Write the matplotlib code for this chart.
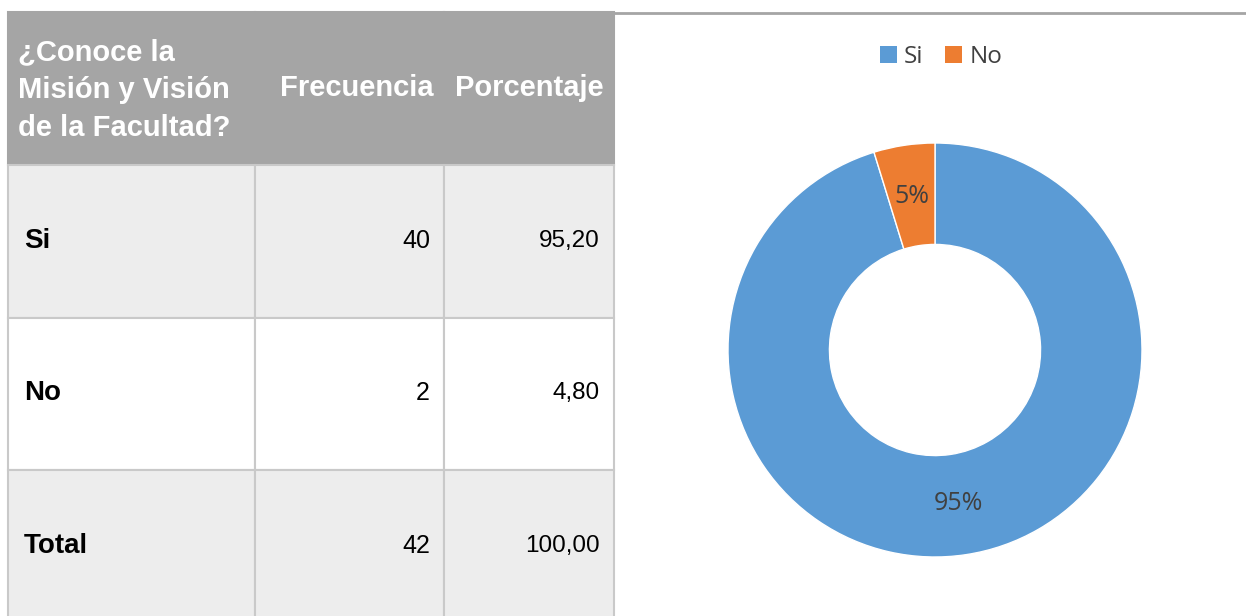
import matplotlib
matplotlib.use('Agg')
import matplotlib.pyplot as plt
from matplotlib.patches import Rectangle, Patch

# data
categories = ['Si', 'No']
frecuencia = [40, 2]
porcentaje = ['95,20', '4,80']
total_row = ['Total', '42', '100,00']
header = ['¿Conoce la\nMisión y Visión\nde la Facultad?', 'Frecuencia', 'Porcentaje']
colors = ['#5b9bd5', '#ed7d31']

W, H = 1246, 616
fig = plt.figure(figsize=(W / 100, H / 100), dpi=100)

# table drawn in pixel coords
tab = fig.add_axes([0, 0, 1, 1])
tab.set_xlim(0, W)
tab.set_ylim(H, 0)
tab.axis('off')

col_x = [8, 255, 444, 614]
row_y = [12, 165, 318, 470, 624]
row_bg = ['#a5a5a5', '#ededed', '#ffffff', '#ededed']
grid = '#c9c9c9'

for r in range(4):
    for c in range(3):
        tab.add_patch(Rectangle((col_x[c], row_y[r]), col_x[c + 1] - col_x[c],
                                row_y[r + 1] - row_y[r], facecolor=row_bg[r],
                                edgecolor=grid if r > 0 else row_bg[r], lw=1.5))

hfont = dict(family='Liberation Sans', weight='bold', color='white', fontsize=21)
tab.text(18, 90, header[0], ha='left', va='center', linespacing=1.45, **hfont)
tab.text(434, 88, header[1], ha='right', va='center', **hfont)
tab.text(604, 88, header[2], ha='right', va='center', **hfont)

rows = [[categories[i], str(frecuencia[i]), porcentaje[i]] for i in range(2)] + [total_row]
for i, row in enumerate(rows):
    yc = (row_y[i + 1] + row_y[i + 2]) / 2 - 1
    tab.text(24, yc, row[0], ha='left', va='center', family='Liberation Sans',
             weight='bold', fontsize=20, color='black')
    tab.text(430, yc, row[1], ha='right', va='center', family='Liberation Sans',
             fontsize=18, color='black')
    tab.text(600, yc, row[2], ha='right', va='center', family='Liberation Sans',
             fontsize=17.5, color='black')

# chart area top border
tab.plot([614, W], [13, 13], color='#a5a5a5', lw=2)

# donut
cx, cy, R = 935, 350, 207
ax = fig.add_axes([(cx - R) / W, (H - cy - R) / H, 2 * R / W, 2 * R / H])
wedges, texts, autotexts = ax.pie(frecuencia, colors=colors, startangle=90,
                                  counterclock=False, radius=1,
                                  autopct='%.0f%%', pctdistance=0.75,
                                  wedgeprops=dict(width=0.49, edgecolor='white', linewidth=1),
                                  textprops=dict(fontsize=18, color='#404040', family='Open Sans'))
ax.set_xlim(-1, 1)
ax.set_ylim(-1, 1)
ax.set_aspect('equal')
ax.axis('off')

handles = [Patch(facecolor=colors[i], label=categories[i]) for i in range(2)]
fig.legend(handles=handles, loc='center', bbox_to_anchor=(941 / W, 1 - 57 / H), ncol=2,
           frameon=False, prop=dict(family='Open Sans', size=17.5), labelcolor='#404040',
           handlelength=0.7, handleheight=0.7, handletextpad=0.3, columnspacing=0.9)

fig.savefig('out.png', dpi=100)
